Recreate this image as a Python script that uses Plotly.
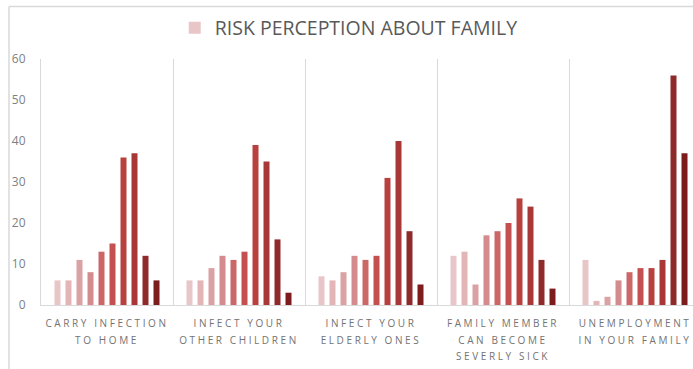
import plotly.graph_objects as go

categories = [
    "CARRY INFECTION<br>TO HOME",
    "INFECT YOUR<br>OTHER CHILDREN",
    "INFECT YOUR<br>ELDERLY ONES",
    "FAMILY MEMBER<br>CAN BECOME<br>SEVERLY SICK",
    "UNEMPLOYMENT<br>IN YOUR FAMILY",
]

# 10 response levels (bars) per category
series_values = [
    [6, 6, 7, 12, 11],
    [6, 6, 6, 13, 1],
    [11, 9, 8, 5, 2],
    [8, 12, 12, 17, 6],
    [13, 11, 11, 18, 8],
    [15, 13, 12, 20, 9],
    [36, 39, 31, 26, 9],
    [37, 35, 40, 24, 11],
    [12, 16, 18, 11, 56],
    [6, 3, 5, 4, 37],
]

series_colors = [
    "#E8C6C8", "#E3B5B7", "#DAA2A4", "#D38B8D", "#CB6766",
    "#C45150", "#B8403F", "#A83838", "#8E2A2A", "#7C1C1C",
]

legend_name = "RISK PERCEPTION ABOUT FAMILY"
y_ticks = [0, 10, 20, 30, 40, 50, 60]

W, H = 693, 369
L, R, T, B = 41, 0, 59, 64
plot_w = W - L - R
cat_px = 132

def styled(label):
    return "<br>".join(
        f'<span style="font-size:10px;letter-spacing:2.6px">{p}</span>'
        for p in label.split("<br>")
    )

tick_text = [styled(c) for c in categories]

fig = go.Figure()
for i, (vals, col) in enumerate(zip(series_values, series_colors)):
    fig.add_trace(go.Bar(
        x=categories,
        y=vals,
        name=legend_name,
        marker=dict(color=col, line=dict(width=0)),
        showlegend=(i == 0),
    ))

grid_col = "#D9D9D9"
fig.update_layout(
    width=W, height=H,
    margin=dict(l=L, r=R, t=T, b=B, pad=0),
    paper_bgcolor="white", plot_bgcolor="white",
    barmode="group", bargap=22 / 132, bargroupgap=5 / 11,
    font=dict(family="Open Sans", color="#7F7F7F"),
    legend=dict(
        orientation="h", x=0.472, xanchor="center", y=1.126, yanchor="middle",
        font=dict(size=19.5, color="#595959", family="Open Sans"),
        bgcolor="rgba(0,0,0,0)",
    ),
    xaxis=dict(
        type="category",
        tickmode="array", tickvals=categories, ticktext=tick_text,
        range=[-0.5, -0.5 + plot_w / cat_px],
        tickson="boundaries", showgrid=True, gridcolor=grid_col, gridwidth=1,
        ticks="", ticklabelstandoff=5,
        showline=True, linecolor=grid_col, linewidth=1,
        tickfont=dict(size=13, color="#737373", family="Open Sans"),
        zeroline=False, fixedrange=True,
    ),
    yaxis=dict(
        range=[0, 60], tickvals=y_ticks, showgrid=False, zeroline=False,
        showline=True, linecolor=grid_col, linewidth=1,
        ticks="", ticklabelstandoff=12,
        tickfont=dict(size=12, color="#7F7F7F", family="Open Sans"),
    ),
    shapes=[
        dict(type="line", xref="paper", yref="paper",
             x0=-(L - 9) / plot_w, x1=-(L - 9) / plot_w,
             y0=-(B + 5) / 246, y1=1 + (T - 6.5) / 246,
             line=dict(color=grid_col, width=1.5), layer="below"),
        dict(type="line", xref="paper", yref="paper",
             x0=-(L - 9) / plot_w, x1=1.05,
             y0=1 + (T - 6.5) / 246, y1=1 + (T - 6.5) / 246,
             line=dict(color=grid_col, width=1.5), layer="below"),
    ],
)

fig.write_html("out.html")
